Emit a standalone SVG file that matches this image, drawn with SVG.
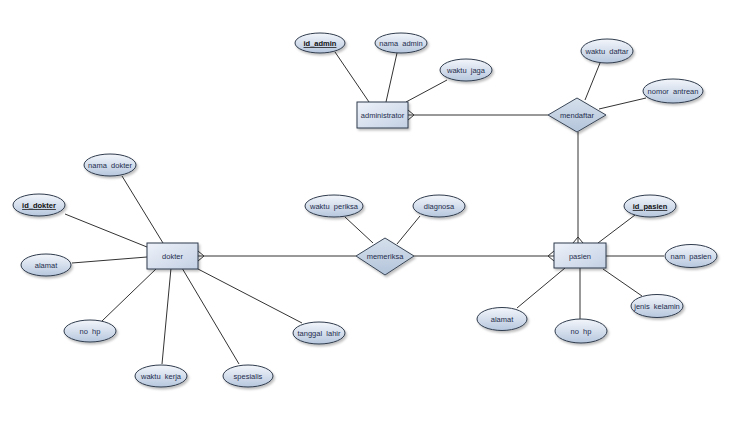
<svg xmlns="http://www.w3.org/2000/svg" width="731" height="435" viewBox="0 0 731 435">
<defs>
<linearGradient id="ge" x1="0" y1="0" x2="0" y2="1"><stop offset="0" stop-color="#f3f6fb"/><stop offset="1" stop-color="#b7c7de"/></linearGradient>
<linearGradient id="gr" x1="0" y1="0" x2="1" y2="1"><stop offset="0" stop-color="#eef2f9"/><stop offset="1" stop-color="#c3d0e4"/></linearGradient>
<linearGradient id="gd" x1="0" y1="0" x2="0" y2="1"><stop offset="0" stop-color="#d6e0ec"/><stop offset="1" stop-color="#b3c4da"/></linearGradient>
<filter id="sh" x="-20%" y="-30%" width="150%" height="170%"><feDropShadow dx="1.5" dy="2" stdDeviation="1.2" flood-color="#000" flood-opacity="0.25"/></filter>
</defs>
<style>
.e{fill:url(#ge);stroke:#2f3b4c;stroke-width:1;filter:url(#sh)}
.r{fill:url(#gr);stroke:#2f3b4c;stroke-width:1;filter:url(#sh)}
.d{fill:url(#gd);stroke:#3a4656;stroke-width:1;filter:url(#sh)}
.c{stroke:#333;stroke-width:1;fill:none}
text{font-family:"Liberation Sans",Arial,sans-serif;font-size:7.5px;fill:#1f2d4d;text-anchor:middle;white-space:pre}
.k{font-weight:bold;text-decoration:underline;fill:#111}
</style>
<rect width="731" height="435" fill="#fff"/>
<g id="connectors">
<line class="c" x1="335" y1="52" x2="369" y2="102"/>
<line class="c" x1="397" y1="53" x2="386" y2="102"/>
<line class="c" x1="447" y1="80" x2="406" y2="102"/>
<line class="c" x1="408" y1="115" x2="548" y2="115"/>
<path class="c" d="M408,110 L414,115 L408,120"/>
<line class="c" x1="600" y1="63" x2="585" y2="100"/>
<line class="c" x1="646" y1="98" x2="599" y2="109"/>
<line class="c" x1="578" y1="132" x2="578" y2="243"/>
<path class="c" d="M573,243 L578,237 L583,243"/>
<line class="c" x1="122" y1="176" x2="163" y2="243"/>
<line class="c" x1="65" y1="214" x2="147" y2="247"/>
<line class="c" x1="72" y1="263" x2="147" y2="257"/>
<line class="c" x1="157" y1="268" x2="102" y2="321"/>
<line class="c" x1="171" y1="268" x2="162" y2="364"/>
<line class="c" x1="182" y1="268" x2="239" y2="364"/>
<line class="c" x1="198" y1="269" x2="302" y2="323"/>
<line class="c" x1="198" y1="256" x2="356" y2="256"/>
<path class="c" d="M198,251 L204,256 L198,261"/>
<line class="c" x1="345" y1="217" x2="373" y2="243"/>
<line class="c" x1="420" y1="216" x2="397" y2="244"/>
<line class="c" x1="414" y1="256" x2="554" y2="256"/>
<path class="c" d="M554,251 L548,256 L554,261"/>
<line class="c" x1="635" y1="215" x2="598" y2="243"/>
<line class="c" x1="606" y1="256" x2="664" y2="256"/>
<line class="c" x1="642" y1="296" x2="603" y2="269"/>
<line class="c" x1="517" y1="308" x2="565" y2="268"/>
<line class="c" x1="580" y1="268" x2="580" y2="319"/>
</g>
<g id="administrator"><rect class="r" x="357" y="102" width="51" height="26"/><text x="382.5" y="118">administrator</text></g>
<g id="id_admin"><ellipse class="e" cx="320" cy="43" rx="25" ry="10"/><text class="k" x="320" y="46">id_admin</text></g>
<g id="nama_admin"><ellipse class="e" cx="401" cy="43" rx="26" ry="10"/><text x="401" y="46">nama  admin</text></g>
<g id="waktu_jaga"><ellipse class="e" cx="466" cy="70" rx="26" ry="11"/><text x="466" y="73">waktu  jaga</text></g>
<g id="mendaftar"><polygon class="d" points="548,115 577,98 606,115 577,132"/><text x="577" y="118">mendaftar</text></g>
<g id="waktu_daftar"><ellipse class="e" cx="607" cy="51" rx="26" ry="12"/><text x="607" y="54">waktu  daftar</text></g>
<g id="nomor_antrean"><ellipse class="e" cx="673" cy="91" rx="30" ry="12"/><text x="673" y="94">nomor  antrean</text></g>
<g id="dokter"><rect class="r" x="147" y="243" width="51" height="26"/><text x="172.5" y="259">dokter</text></g>
<g id="nama_dokter"><ellipse class="e" cx="110" cy="165" rx="26" ry="11"/><text x="110" y="168">nama  dokter</text></g>
<g id="id_dokter"><ellipse class="e" cx="39" cy="205" rx="26" ry="11"/><text class="k" x="39" y="208">id_dokter</text></g>
<g id="alamat_dokter"><ellipse class="e" cx="46" cy="265" rx="25" ry="11"/><text x="46" y="268">alamat</text></g>
<g id="no_hp_dokter"><ellipse class="e" cx="90" cy="331" rx="26" ry="11"/><text x="90" y="334">no  hp</text></g>
<g id="waktu_kerja"><ellipse class="e" cx="161" cy="376" rx="26" ry="11"/><text x="161" y="379">waktu  kerja</text></g>
<g id="spesialis"><ellipse class="e" cx="248" cy="376" rx="25" ry="11"/><text x="248" y="379">spesialis</text></g>
<g id="tanggal_lahir"><ellipse class="e" cx="319" cy="333" rx="26" ry="11"/><text x="319" y="336">tanggal  lahir</text></g>
<g id="memeriksa"><polygon class="d" points="356,256 385,238 414,256 385,275"/><text x="385" y="259">memeriksa</text></g>
<g id="waktu_periksa"><ellipse class="e" cx="334" cy="206" rx="29" ry="11"/><text x="334" y="209">waktu  periksa</text></g>
<g id="diagnosa"><ellipse class="e" cx="439" cy="206" rx="26" ry="11"/><text x="439" y="209">diagnosa</text></g>
<g id="pasien"><rect class="r" x="554" y="243" width="52" height="25"/><text x="580" y="259">pasien</text></g>
<g id="id_pasien"><ellipse class="e" cx="650" cy="206" rx="26" ry="11"/><text class="k" x="650" y="209">id_pasien</text></g>
<g id="nam_pasien"><ellipse class="e" cx="691" cy="256" rx="26" ry="11.5"/><text x="691" y="259">nam  pasien</text></g>
<g id="jenis_kelamin"><ellipse class="e" cx="657" cy="306" rx="26" ry="11.5"/><text x="657" y="309">jenis  kelamin</text></g>
<g id="alamat_pasien"><ellipse class="e" cx="502" cy="319" rx="25" ry="11.5"/><text x="502" y="322">alamat</text></g>
<g id="no_hp_pasien"><ellipse class="e" cx="581" cy="331" rx="26" ry="12"/><text x="581" y="334">no  hp</text></g>
</svg>
